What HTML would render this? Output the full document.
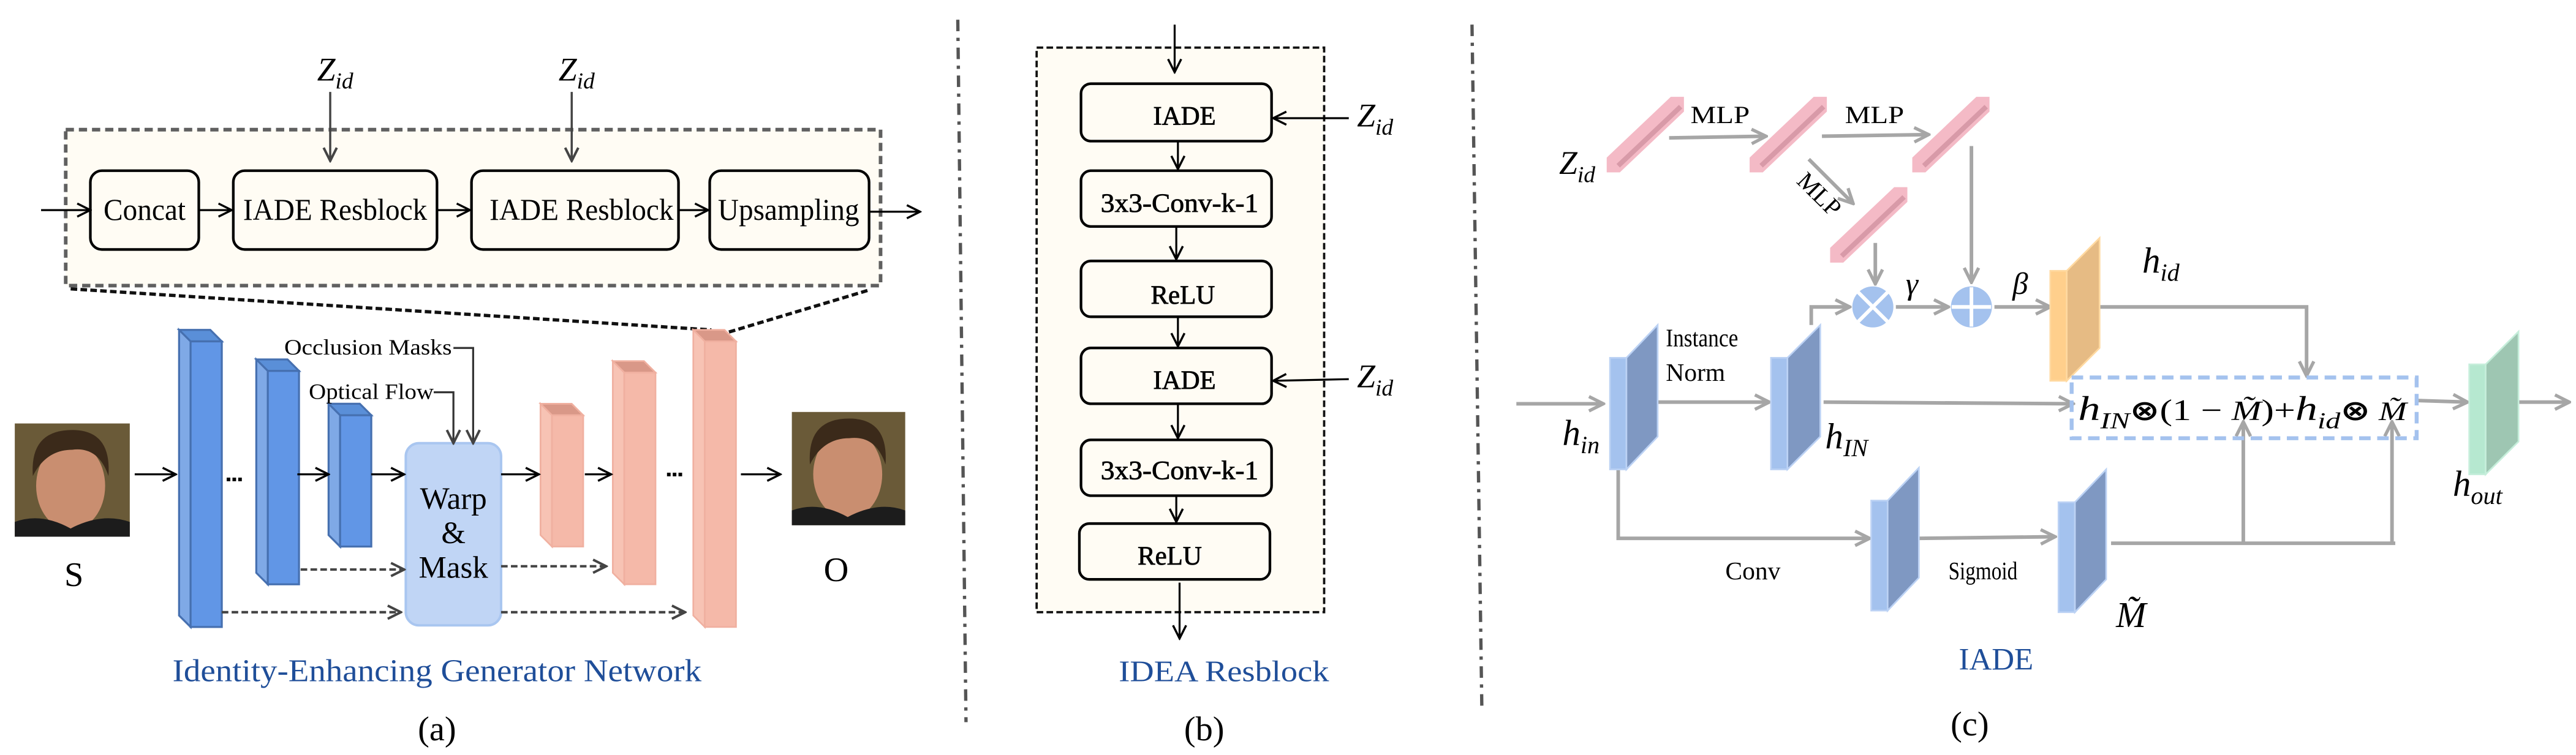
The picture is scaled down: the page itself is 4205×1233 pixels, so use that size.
<!DOCTYPE html>
<html><head><meta charset="utf-8"><style>
html,body{margin:0;padding:0;background:#fff;}
svg{display:block;font-family:"Liberation Serif",serif;}
</style></head><body>
<svg width="4205" height="1233" viewBox="0 0 1568 460" preserveAspectRatio="none" xmlns="http://www.w3.org/2000/svg" font-family="Liberation Serif, serif">
<defs>
<marker id="ab" viewBox="0 0 10 10" refX="9" refY="5" markerWidth="10" markerHeight="10" orient="auto" markerUnits="userSpaceOnUse"><path d="M1,1 L9,5 L1,9" fill="none" stroke="#000" stroke-width="1.3"/></marker>
<marker id="ad" viewBox="0 0 10 10" refX="9" refY="5" markerWidth="10" markerHeight="10" orient="auto" markerUnits="userSpaceOnUse"><path d="M1,1 L9,5 L1,9" fill="none" stroke="#444" stroke-width="1.5"/></marker>
<marker id="ag" viewBox="0 0 10 10" refX="9" refY="5" markerWidth="11" markerHeight="11" orient="auto" markerUnits="userSpaceOnUse"><path d="M1,1 L9,5 L1,9" fill="none" stroke="#a6a6a6" stroke-width="1.8"/></marker>
</defs>

<!-- ========== Panel (a) ========== -->
<rect x="40" y="79" width="496" height="95" fill="#fffcf4" stroke="#606060" stroke-width="2.2" stroke-dasharray="5 3"/>
<g fill="#fffcf4" stroke="#000" stroke-width="1.6">
<rect x="55" y="104" width="66" height="48" rx="7"/>
<rect x="142" y="104" width="124" height="48" rx="7"/>
<rect x="287" y="104" width="126" height="48" rx="7"/>
<rect x="432" y="104" width="97" height="48" rx="7"/>
</g>
<g font-size="18.5" text-anchor="middle" fill="#000" font-family="Liberation Serif, serif">
<text x="88" y="134" textLength="50" lengthAdjust="spacingAndGlyphs">Concat</text>
<text x="204" y="134" textLength="112" lengthAdjust="spacingAndGlyphs">IADE Resblock</text>
<text x="354" y="134" textLength="112" lengthAdjust="spacingAndGlyphs">IADE Resblock</text>
<text x="480" y="134" textLength="86" lengthAdjust="spacingAndGlyphs">Upsampling</text>
</g>
<g stroke="#000" stroke-width="1.2" fill="none" marker-end="url(#ab)">
<line x1="25" y1="128" x2="55" y2="128"/>
<line x1="121" y1="128" x2="141" y2="128"/>
<line x1="266" y1="128" x2="286" y2="128"/>
<line x1="413" y1="128" x2="431" y2="128"/>
<line x1="529" y1="129" x2="560" y2="129"/>
</g>
<g stroke="#444" stroke-width="1.3" fill="none" marker-end="url(#ad)">
<line x1="201" y1="56" x2="201" y2="98"/>
<line x1="348" y1="56" x2="348" y2="98"/>
</g>
<g font-size="20" font-style="italic" fill="#000">
<text x="193" y="49">Z<tspan font-size="14" dy="5">id</tspan></text>
<text x="340" y="49">Z<tspan font-size="14" dy="5">id</tspan></text>
</g>
<g stroke="#111" stroke-width="2" stroke-dasharray="4 2" fill="none">
<line x1="43" y1="176" x2="433" y2="201"/>
<line x1="528" y1="177" x2="438" y2="204"/>
</g>

<!-- blue encoder bars -->
<g stroke="#4670b0" stroke-width="1.2">
<polygon points="109,201 128,201 135,208 116,208" fill="#5a8fd8"/>
<polygon points="109,201 116,208 116,382 109,375" fill="#7fa9e6"/>
<rect x="116" y="208" width="19" height="174" fill="#6196e6"/>
<polygon points="156,219 175,219 182,226 163,226" fill="#5a8fd8"/>
<polygon points="156,219 163,226 163,356 156,349" fill="#7fa9e6"/>
<rect x="163" y="226" width="19" height="130" fill="#6196e6"/>
<polygon points="200,246 219,246 226,253 207,253" fill="#5a8fd8"/>
<polygon points="200,246 207,253 207,333 200,326" fill="#7fa9e6"/>
<rect x="207" y="253" width="19" height="80" fill="#6196e6"/>
</g>
<!-- pink decoder bars -->
<g stroke="#f0b0a0" stroke-width="1">
<polygon points="329,246 348,246 355,253 336,253" fill="#d99888"/>
<polygon points="329,246 336,253 336,333 329,326" fill="#f7c3b4"/>
<rect x="336" y="253" width="19" height="80" fill="#f5b9a9"/>
<polygon points="373,220 392,220 399,227 380,227" fill="#d99888"/>
<polygon points="373,220 380,227 380,356 373,349" fill="#f7c3b4"/>
<rect x="380" y="227" width="19" height="129" fill="#f5b9a9"/>
<polygon points="422,201 441,201 448,208 429,208" fill="#d99888"/>
<polygon points="422,201 429,208 429,382 422,375" fill="#f7c3b4"/>
<rect x="429" y="208" width="19" height="174" fill="#f5b9a9"/>
</g>
<!-- warp box -->
<rect x="247" y="270" width="58" height="111" rx="8" fill="#c0d5f5" stroke="#a9c6f0" stroke-width="1.5"/>
<g font-size="19" text-anchor="middle" fill="#000">
<text x="276" y="310">Warp</text>
<text x="276" y="331">&amp;</text>
<text x="276" y="352">Mask</text>
</g>
<!-- faces -->
<rect x="9" y="258" width="70" height="69" fill="#6a5a38"/>
<ellipse cx="43" cy="296" rx="21" ry="27" fill="#c98e70"/>
<path d="M20,290 Q18,262 44,262 Q68,262 66,290 Q60,272 44,274 Q28,274 20,290Z" fill="#3b2a1a"/>
<path d="M9,327 L9,318 Q25,312 43,322 Q62,312 79,318 L79,327Z" fill="#1c1c1c"/>
<rect x="482" y="251" width="69" height="69" fill="#6a5a38"/>
<ellipse cx="516" cy="289" rx="21" ry="27" fill="#c98e70"/>
<path d="M493,283 Q491,255 517,255 Q541,255 539,283 Q533,265 517,267 Q501,267 493,283Z" fill="#3b2a1a"/>
<path d="M482,320 L482,311 Q498,305 516,315 Q535,305 551,311 L551,320Z" fill="#1c1c1c"/>
<g font-size="21" text-anchor="middle" fill="#000">
<text x="45" y="357">S</text>
<text x="509" y="354">O</text>
</g>
<!-- arrows -->
<g stroke="#000" stroke-width="1.2" fill="none" marker-end="url(#ab)">
<line x1="82" y1="289" x2="107" y2="289"/>
<line x1="181" y1="289" x2="200" y2="289"/>
<line x1="226" y1="289" x2="246" y2="289"/>
<line x1="305" y1="289" x2="328" y2="289"/>
<line x1="356" y1="289" x2="372" y2="289"/>
<line x1="451" y1="289" x2="475" y2="289"/>
</g>
<g fill="#000">
<rect x="138" y="291" width="2.2" height="2.2"/><rect x="141.5" y="291" width="2.2" height="2.2"/><rect x="145" y="291" width="2.2" height="2.2"/>
<rect x="406" y="288" width="2.2" height="2.2"/><rect x="409.5" y="288" width="2.2" height="2.2"/><rect x="413" y="288" width="2.2" height="2.2"/>
</g>
<g stroke="#444" stroke-width="1.5" stroke-dasharray="4 2" fill="none" marker-end="url(#ad)">
<line x1="183" y1="347" x2="246" y2="347"/>
<line x1="305" y1="345" x2="369" y2="345"/>
<line x1="135" y1="373" x2="244" y2="373"/>
<line x1="305" y1="373" x2="417" y2="373"/>
</g>
<g font-size="13.5" fill="#000">
<text x="173" y="216" textLength="102" lengthAdjust="spacingAndGlyphs">Occlusion Masks</text>
<text x="188" y="243" textLength="76" lengthAdjust="spacingAndGlyphs">Optical Flow</text>
</g>
<g stroke="#333" stroke-width="1.2" fill="none" marker-end="url(#ad)">
<polyline points="276,212 288,212 288,270"/>
<polyline points="264,239 276,239 276,270"/>
</g>
<text x="266" y="415" font-size="19.5" text-anchor="middle" fill="#1f4e99" textLength="322" lengthAdjust="spacingAndGlyphs">Identity-Enhancing Generator Network</text>
<text x="266" y="451" font-size="21" text-anchor="middle" fill="#000">(a)</text>

<!-- separators -->
<g stroke="#555" stroke-width="2" stroke-dasharray="7 4 2 4" fill="none">
<line x1="583" y1="12" x2="588" y2="440"/>
<line x1="896" y1="15" x2="902" y2="432"/>
</g>

<!-- ========== Panel (b) ========== -->
<rect x="631" y="29" width="175" height="344" fill="#fffcf4" stroke="#111" stroke-width="1.4" stroke-dasharray="4 2"/>
<g fill="#fffcf4" stroke="#000" stroke-width="1.6">
<rect x="658" y="51" width="116" height="35" rx="6"/>
<rect x="658" y="104" width="116" height="34" rx="6"/>
<rect x="658" y="159" width="116" height="34" rx="6"/>
<rect x="658" y="212" width="116" height="34" rx="6"/>
<rect x="658" y="268" width="116" height="34" rx="6"/>
<rect x="657" y="319" width="116" height="34" rx="6"/>
</g>
<g font-size="16" text-anchor="middle" fill="#000" stroke="#000" stroke-width="0.3">
<text x="721" y="76">IADE</text>
<text x="718" y="129" textLength="96" lengthAdjust="spacingAndGlyphs">3x3-Conv-k-1</text>
<text x="720" y="185">ReLU</text>
<text x="721" y="237">IADE</text>
<text x="718" y="292" textLength="96" lengthAdjust="spacingAndGlyphs">3x3-Conv-k-1</text>
<text x="712" y="344">ReLU</text>
</g>
<g stroke="#000" stroke-width="1.2" fill="none" marker-end="url(#ab)">
<line x1="715" y1="15" x2="715" y2="44"/>
<line x1="717" y1="86" x2="717" y2="103"/>
<line x1="716" y1="138" x2="716" y2="158"/>
<line x1="717" y1="193" x2="717" y2="211"/>
<line x1="717" y1="246" x2="717" y2="267"/>
<line x1="716" y1="302" x2="716" y2="318"/>
<line x1="718" y1="355" x2="718" y2="389"/>
<line x1="821" y1="72" x2="775" y2="72"/>
<line x1="821" y1="231" x2="775" y2="232"/>
</g>
<g font-size="20" font-style="italic" fill="#000">
<text x="826" y="77">Z<tspan font-size="14" dy="5">id</tspan></text>
<text x="826" y="236">Z<tspan font-size="14" dy="5">id</tspan></text>
</g>
<text x="745" y="415" font-size="18" text-anchor="middle" fill="#1f4e99" textLength="128" lengthAdjust="spacingAndGlyphs">IDEA Resblock</text>
<text x="733" y="451" font-size="21" text-anchor="middle" fill="#000">(b)</text>

<!-- ========== Panel (c) ========== -->
<g>
<polygon points="978,105 978,96 1017,59 1025,59 1025,68 986,105" fill="#f4bac6"/>
<line x1="985" y1="101" x2="1023" y2="65" stroke="#d89aa8" stroke-width="3"/>
<polygon points="1065,105 1065,96 1104,59 1112,59 1112,68 1073,105" fill="#f4bac6"/>
<line x1="1072" y1="101" x2="1110" y2="65" stroke="#d89aa8" stroke-width="3"/>
<polygon points="1164,105 1164,96 1203,59 1211,59 1211,68 1172,105" fill="#f4bac6"/>
<line x1="1171" y1="101" x2="1209" y2="65" stroke="#d89aa8" stroke-width="3"/>
<polygon points="1114,160 1114,151 1153,114 1161,114 1161,123 1122,160" fill="#f4bac6"/>
<line x1="1121" y1="156" x2="1159" y2="120" stroke="#d89aa8" stroke-width="3"/>
</g>
<g font-size="15" fill="#000">
<text x="1029" y="75" textLength="36" lengthAdjust="spacingAndGlyphs">MLP</text>
<text x="1123" y="75" textLength="36" lengthAdjust="spacingAndGlyphs">MLP</text>
<text x="0" y="0" transform="translate(1093,111) rotate(45)">MLP</text>
</g>
<g font-size="20" font-style="italic" fill="#000">
<text x="949" y="106">Z<tspan font-size="14" dy="5">id</tspan></text>
</g>
<g stroke="#a6a6a6" stroke-width="2.2" fill="none" marker-end="url(#ag)">
<line x1="1016" y1="84" x2="1075" y2="83"/>
<line x1="1109" y1="83" x2="1174" y2="82"/>
<line x1="1101" y1="97" x2="1128" y2="124"/>
<line x1="1200" y1="89" x2="1200" y2="172"/>
<line x1="1141.5" y1="148" x2="1141.5" y2="173"/>
<polyline points="1102.5,198 1102.5,187 1126,187"/>
<line x1="1154" y1="187" x2="1186" y2="187"/>
<line x1="1214" y1="187" x2="1248" y2="187"/>
<polyline points="1278,187 1404,187 1404,229"/>
<line x1="923" y1="246" x2="976" y2="246"/>
<line x1="1009" y1="245" x2="1077" y2="245"/>
<line x1="1110" y1="245" x2="1262" y2="246"/>
<polyline points="985,286 985,328 1138,328"/>
<line x1="1168" y1="328" x2="1251" y2="327"/>
<line x1="1365.5" y1="331" x2="1365.5" y2="257"/>
<line x1="1456" y1="331" x2="1456" y2="257"/>
<line x1="1471" y1="244" x2="1502" y2="245"/>
<line x1="1524" y1="245" x2="1564" y2="245"/>
</g>
<line x1="1285" y1="331" x2="1458" y2="331" stroke="#a6a6a6" stroke-width="2.2"/>
<circle cx="1140" cy="187" r="12.5" fill="#a4c2ee"/>
<path d="M1131,178 L1149,196 M1149,178 L1131,196" stroke="#fff" stroke-width="2.2"/>
<circle cx="1200" cy="187" r="12.5" fill="#a4c2ee"/>
<path d="M1200,175 L1200,199 M1188,187 L1212,187" stroke="#fff" stroke-width="2.2"/>
<g font-size="19" font-style="italic" fill="#000">
<text x="1160" y="179">γ</text>
<text x="1225" y="179">β</text>
</g>
<g>
<rect x="980" y="218" width="10" height="68" fill="#a4c2ee" stroke="#bcd2f4" stroke-width="1"/>
<polygon points="990,218 1009,198 1009,266 990,286" fill="#7f98c2" stroke="#bcd2f4" stroke-width="1"/>
<rect x="1078" y="218" width="10" height="68" fill="#a4c2ee" stroke="#bcd2f4" stroke-width="1"/>
<polygon points="1088,218 1108,198 1108,266 1088,286" fill="#7f98c2" stroke="#bcd2f4" stroke-width="1"/>
<rect x="1139" y="305" width="10" height="67" fill="#a4c2ee" stroke="#bcd2f4" stroke-width="1"/>
<polygon points="1149,305 1168,285 1168,352 1149,372" fill="#7f98c2" stroke="#bcd2f4" stroke-width="1"/>
<rect x="1253" y="306" width="10" height="67" fill="#a4c2ee" stroke="#bcd2f4" stroke-width="1"/>
<polygon points="1263,306 1282,286 1282,353 1263,373" fill="#7f98c2" stroke="#bcd2f4" stroke-width="1"/>
<rect x="1248" y="165" width="10" height="67" fill="#ffcf8c" stroke="#ffd9a0" stroke-width="1"/>
<polygon points="1258,165 1278,145 1278,212 1258,232" fill="#e6bb84" stroke="#ffd9a0" stroke-width="1"/>
<rect x="1503" y="222" width="10" height="67" fill="#b6e8d0" stroke="#c6eedb" stroke-width="1"/>
<polygon points="1513,222 1533,202 1533,269 1513,289" fill="#9ec6b2" stroke="#c6eedb" stroke-width="1"/>
</g>
<rect x="1261" y="230" width="210" height="37" fill="none" stroke="#a4c2ee" stroke-width="2.4" stroke-dasharray="7 4"/>
<text x="1265" y="256" font-size="21" fill="#000" textLength="200" lengthAdjust="spacingAndGlyphs"><tspan font-style="italic">h</tspan><tspan font-size="14" font-style="italic" dy="5">IN</tspan><tspan dy="-5" font-family="DejaVu Sans" font-weight="bold" font-size="17">⊗</tspan><tspan font-size="18">(1 − </tspan><tspan font-style="italic" font-size="17">M̃</tspan><tspan font-size="18">)+</tspan><tspan font-style="italic">h</tspan><tspan font-size="14" font-style="italic" dy="5">id</tspan><tspan dy="-5" font-family="DejaVu Sans" font-weight="bold" font-size="17">⊗</tspan><tspan font-style="italic" font-size="16"> M̃</tspan></text>
<g font-size="22" font-style="italic" fill="#000">
<text x="1304" y="166">h<tspan font-size="15" dy="5">id</tspan></text>
<text x="951" y="271">h<tspan font-size="15" dy="5">in</tspan></text>
<text x="1111" y="273">h<tspan font-size="15" dy="5">IN</tspan></text>
<text x="1493" y="302">h<tspan font-size="15" dy="5">out</tspan></text>
<text x="1288" y="382">M̃</text>
</g>
<g font-size="15.5" fill="#000">
<text x="1014" y="211" textLength="44" lengthAdjust="spacingAndGlyphs">Instance</text>
<text x="1014" y="232">Norm</text>
<text x="1067" y="353" text-anchor="middle">Conv</text>
<text x="1207" y="353" text-anchor="middle" textLength="42" lengthAdjust="spacingAndGlyphs">Sigmoid</text>
</g>
<text x="1215" y="408" font-size="19" text-anchor="middle" fill="#1f4e99">IADE</text>
<text x="1199" y="448" font-size="21" text-anchor="middle" fill="#000">(c)</text>
</svg>
</body></html>
